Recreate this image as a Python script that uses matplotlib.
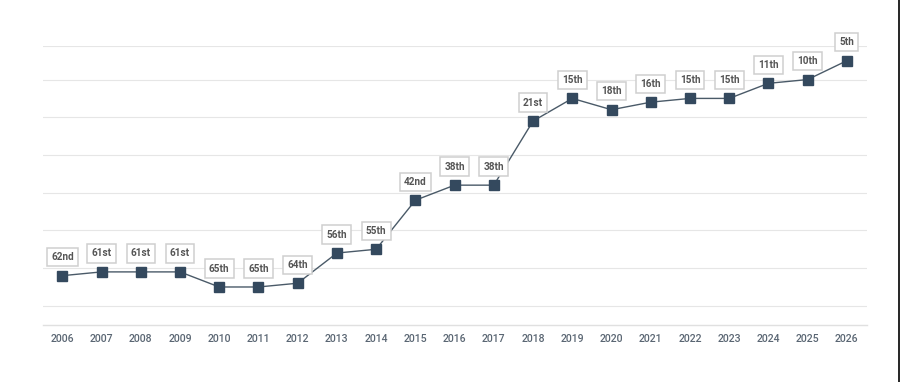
import matplotlib
matplotlib.use("Agg")
import matplotlib.pyplot as plt
from matplotlib.lines import Line2D

years = [str(y) for y in range(2006, 2027)]
ranks = [62, 61, 61, 61, 65, 65, 64, 56, 55, 42, 38, 38, 21, 15, 18, 16, 15, 15, 11, 10, 5]
labels = ["62nd", "61st", "61st", "61st", "65th", "65th", "64th", "56th", "55th", "42nd",
          "38th", "38th", "21st", "15th", "18th", "16th", "15th", "15th", "11th", "10th", "5th"]
grid_ticks = [1, 10, 20, 30, 40, 50, 60, 70]

plt.rcParams['font.family'] = ['Roboto', 'DejaVu Sans']

W, H = 900, 382
fig = plt.figure(figsize=(W / 100, H / 100), dpi=100)
fig.patch.set_facecolor("white")
ax = fig.add_axes([42.7 / W, 1 - 324.7 / H, (866.5 - 42.7) / W, (324.7 - 45.5) / H])

x = list(range(len(years)))
ax.plot(x, ranks, color="#4a5a68", lw=1.0, zorder=3)
ax.plot(x, ranks, ls="none", marker="s", markersize=7.6, color="#34495e", zorder=4)

for xi, r, lab in zip(x, ranks, labels):
    ax.annotate(lab, (xi, r), xytext=(0, 13.3), textcoords="offset points",
                ha="center", va="center", fontsize=7.2, fontweight="bold", color="#555555",
                bbox=dict(boxstyle="square,pad=0.42", fc="white", ec="#cfcfcf", lw=1.1),
                zorder=5, annotation_clip=False)

ax.set_xlim(-0.5, len(years) - 0.5)
ax.set_ylim(75, 0.97)
ax.set_yticks(grid_ticks)
ax.yaxis.grid(True, color="#e6e6e6", lw=0.8)
ax.set_axisbelow(True)
ax.tick_params(axis="y", left=False, labelleft=False)
ax.set_xticks(x)
ax.set_xticklabels(years)
ax.tick_params(axis="x", length=0, pad=6.5, labelsize=7.6, labelcolor="#5a6673")
for lab in ax.get_xticklabels():
    lab.set_fontweight("medium")
for s in ["top", "left", "right"]:
    ax.spines[s].set_visible(False)
ax.spines["bottom"].set_color("#e0e0e0")
ax.spines["bottom"].set_linewidth(1.0)

fig.add_artist(Line2D([898.5 / W, 898.5 / W], [0, 1], color="black", lw=1.2,
                      transform=fig.transFigure))

fig.savefig("out.png", dpi=100, facecolor="white")
